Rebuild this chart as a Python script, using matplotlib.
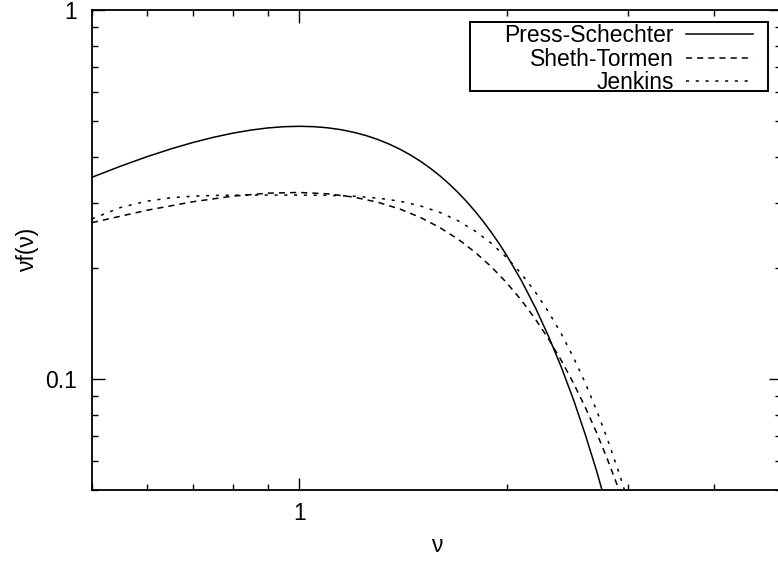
import matplotlib
matplotlib.use("Agg")
import matplotlib.pyplot as plt
from matplotlib.patches import Rectangle
from matplotlib.ticker import LogLocator, NullFormatter, FixedFormatter, FixedLocator

plt.rcParams['font.family'] = ['Liberation Sans', 'DejaVu Sans']

# nu values and curves
nu_ps = [0.5, 0.55, 0.6, 0.65, 0.7, 0.75, 0.8, 0.85, 0.9, 0.95, 1.0, 1.05,
         1.1, 1.15, 1.2, 1.25, 1.3, 1.35, 1.4, 1.45, 1.5, 1.55, 1.6, 1.65,
         1.7, 1.75, 1.8, 1.85, 1.9, 1.95, 2.0, 2.1, 2.2, 2.3, 2.4, 2.5, 2.6,
         2.7, 2.8, 2.9, 3.0]
press_schechter = [0.3521, 0.3772, 0.3999, 0.4199, 0.4372, 0.4517, 0.4635,
                   0.4726, 0.4790, 0.4827, 0.4839, 0.4828, 0.4793, 0.4737,
                   0.4660, 0.4566, 0.4456, 0.4330, 0.4192, 0.4044, 0.3886,
                   0.3720, 0.3550, 0.3375, 0.3198, 0.3020, 0.2842, 0.2667,
                   0.2493, 0.2324, 0.2160, 0.1847, 0.1561, 0.1303, 0.1075,
                   0.0877, 0.0706, 0.0563, 0.0443, 0.0346, 0.0266]

nu_st = [0.5, 0.6, 0.7, 0.8, 0.9, 1.0, 1.1, 1.2, 1.3, 1.4, 1.5, 1.6, 1.7,
         1.8, 1.9, 2.0, 2.1, 2.2, 2.3, 2.4, 2.5, 2.6, 2.7, 2.8, 2.9, 3.0]
sheth_tormen = [0.2653, 0.2864, 0.3021, 0.3129, 0.3188, 0.3202, 0.3175,
                0.3110, 0.3012, 0.2886, 0.2737, 0.2570, 0.2391, 0.2203,
                0.2012, 0.1821, 0.1634, 0.1453, 0.1282, 0.1121, 0.0973,
                0.0837, 0.0715, 0.0605, 0.0509, 0.0424]

nu_jk = [0.5, 0.55, 0.6, 0.65, 0.7, 0.75, 0.8, 0.9, 1.0, 1.1, 1.2, 1.3,
         1.4, 1.5, 1.6, 1.7, 1.8, 1.9, 2.0, 2.1, 2.2, 2.3, 2.4, 2.5, 2.6,
         2.7, 2.8, 2.9, 3.0]
jenkins = [0.2715, 0.2915, 0.3032, 0.3096, 0.3129, 0.3143, 0.3148, 0.3150,
           0.3150, 0.3145, 0.3128, 0.3092, 0.3031, 0.2943, 0.2826, 0.2682,
           0.2515, 0.2330, 0.2132, 0.1927, 0.1720, 0.1518, 0.1324, 0.1142,
           0.0974, 0.0822, 0.0686, 0.0567, 0.0465]

fig = plt.figure(figsize=(7.78, 5.63), dpi=100)
ax = fig.add_axes([92 / 778, 1 - 490 / 563, (781 - 92) / 778, (490 - 10) / 563])

ax.plot(nu_ps, press_schechter, color='black', lw=1.1, label='Press-Schechter')
ax.plot(nu_st, sheth_tormen, color='black', lw=1.1, dashes=(4.0, 3.3), label='Sheth-Tormen')
ax.plot(nu_jk, jenkins, color='black', lw=1.1, dashes=(2.0, 4.4), label='Jenkins')

ax.set_xscale('log')
ax.set_yscale('log')
ax.set_xlim(0.5, 5)
ax.set_ylim(0.05, 1)

ax.xaxis.set_major_locator(FixedLocator([1]))
ax.xaxis.set_major_formatter(FixedFormatter(['1']))
ax.xaxis.set_minor_locator(LogLocator(base=10, subs=range(2, 10)))
ax.xaxis.set_minor_formatter(NullFormatter())
ax.yaxis.set_major_locator(FixedLocator([0.1, 1]))
ax.yaxis.set_major_formatter(FixedFormatter(['0.1', '1']))
ax.yaxis.set_minor_locator(LogLocator(base=10, subs=range(2, 10)))
ax.yaxis.set_minor_formatter(NullFormatter())

ax.tick_params(which='both', direction='in', top=True, right=True, width=1.0,
               labelsize=16.5)
ax.tick_params(axis='x', which='both', pad=9)
ax.tick_params(axis='y', which='both', pad=11)
ax.tick_params(which='major', length=9)
ax.tick_params(which='minor', length=4.5)
for s in ax.spines.values():
    s.set_linewidth(1.3)

ax.set_xlabel('ν', fontsize=16.5, labelpad=6)
ax.set_ylabel('νf(ν)', fontsize=16.5, labelpad=4)

# key: right-aligned labels with samples on the right, in a plain box
leg = ax.legend(loc='upper right', bbox_to_anchor=(755 / 778, 1 - 22 / 563),
                bbox_transform=fig.transFigure, markerfirst=False, frameon=False,
                fontsize=16.5, handlelength=2.9, handletextpad=0.55,
                labelspacing=0.02, borderpad=0.1, borderaxespad=0)
leg.set_zorder(6)
fig.canvas.draw()
bb = leg.get_window_extent()
box = Rectangle((bb.x0 - 32, bb.y0 + 5), bb.width + 45, bb.height - 5,
                transform=None, facecolor='white', edgecolor='black',
                lw=1.4, zorder=5, clip_on=False)
ax.add_patch(box)

fig.savefig('out.png', dpi=100)
